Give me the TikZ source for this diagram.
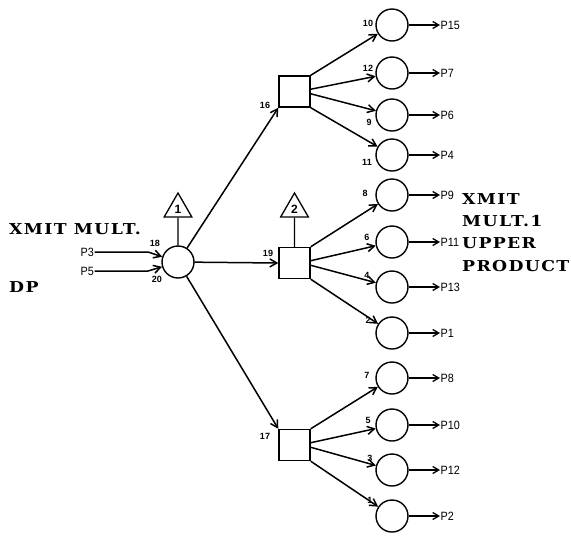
\documentclass[tikz,border=0pt]{standalone}
\usepackage{fontspec}
\setsansfont{Liberation Sans}
\newfontfamily\termfont[FakeStretch=0.9]{Liberation Sans}
\newfontfamily\notefont[FakeStretch=1.15,LetterSpace=9]{DejaVu Serif}
\usetikzlibrary{arrows.meta,shapes.geometric}

\begin{document}
\begin{tikzpicture}[
  x=1pt, y=-1pt,
  font=\sffamily,
  gate/.style={circle, draw, line width=1.4pt, minimum size=32pt, inner sep=0pt},
  relay/.style={rectangle, draw, line width=1.4pt, minimum size=31pt, inner sep=0pt},
  flag/.style={regular polygon, regular polygon sides=3, draw, line width=1.3pt, minimum size=32pt, inner sep=0pt, font=\sffamily\bfseries\fontsize{12}{12}\selectfont},
  feed/.style={-{Straight Barb[length=7pt, width=8pt, line width=1.5pt]}, line width=1.5pt},
  tap/.style={-{Straight Barb[length=6pt, width=7pt, line width=1.3pt]}, line width=1.2pt},
  term/.style={anchor=west, inner sep=0.5pt, font=\termfont\fontsize{12}{12}\selectfont},
  pin/.style={inner sep=0pt, font=\sffamily\bfseries\fontsize{9}{9}\selectfont},
  note/.style={anchor=west, align=left, inner sep=0pt, font=\notefont\bfseries\fontsize{15}{22.3}\selectfont}
]
\useasboundingbox (0,0) rectangle (571,539);

\def\xc{392}
\def\xt{440}

% Input side: the multiplier node with its flag.
\node[gate] (main) at (178,262) {};
\node[flag] (flag1) at (178,209) {1};
\draw[line width=1.3pt] (flag1.south) -- (main);
\node[term, anchor=west] (p3) at (80,252) {P3};
\node[term, anchor=west] (p5) at (80,271) {P5};
\coordinate (k3) at (148,252);
\coordinate (k5) at (148,271);
\draw[feed] (p3) -- (k3) -- (main);
\draw[feed] (p5) -- (k5) -- (main);
\node[pin] (n18) at (155,243) {18};
\node[pin] (n20) at (157,279) {20};
\node[note] (capleft) at (9,229) {XMIT MULT.};
\node[note] (dp) at (9,287) {DP};

% Three relay boxes fed from the multiplier node.
\node[relay] (top) at (294.5,91.5) {};
\node[relay] (mid) at (294.5,263) {};
\node[relay] (bot) at (294.5,445) {};
\node[flag] (flag2) at (294.5,209) {2};
\draw[line width=1.3pt] (flag2.south) -- (mid);
\draw[feed] (main) -- (top.south west);
\draw[feed] (main) -- (mid.west);
\draw[feed] (main) -- (bot.north west);
\node[pin] (n16) at (265,105) {16};
\node[pin] (n19) at (268,253) {19};
\node[pin] (n17) at (265,436) {17};

% Upper group.
\node[gate] (c10) at (\xc,25) {};
\node[gate] (c12) at (\xc,73) {};
\node[gate] (c9) at (\xc,115) {};
\node[gate] (c11) at (\xc,155) {};
\draw[feed] (top.north east) -- (c10);
\draw[feed] (top.8) -- (c12);
\draw[feed] (top.-8) -- (c9);
\draw[feed] (top.south east) -- (c11);
\node[pin] (n10) at (368,23) {10};
\node[pin] (n12) at (368,68) {12};
\node[pin] (n9) at (369,122) {9};
\node[pin] (n11) at (367,162) {11};
\node[term] (p15) at (\xt,25) {P15};
\node[term] (p7) at (\xt,73) {P7};
\node[term] (p6) at (\xt,115) {P6};
\node[term] (p4) at (\xt,155) {P4};
\draw[tap] (c10) -- (p15);
\draw[tap] (c12) -- (p7);
\draw[tap] (c9) -- (p6);
\draw[tap] (c11) -- (p4);

% Middle group.
\node[gate] (c8) at (\xc,195) {};
\node[gate] (c6) at (\xc,242) {};
\node[gate] (c4) at (\xc,287) {};
\node[gate] (c2) at (\xc,333) {};
\draw[feed] (mid.north east) -- (c8);
\draw[feed] (mid.8) -- (c6);
\draw[feed] (mid.-8) -- (c4);
\draw[feed] (mid.south east) -- (c2);
\node[pin] (n8) at (365,193) {8};
\node[pin] (n6) at (367,237) {6};
\node[pin] (n4) at (367,275) {4};
\node[pin] (n2) at (368,320) {2};
\node[term] (p9) at (\xt,195) {P9};
\node[term] (p11) at (\xt,242) {P11};
\node[term] (p13) at (\xt,287) {P13};
\node[term] (p1) at (\xt,333) {P1};
\draw[tap] (c8) -- (p9);
\draw[tap] (c6) -- (p11);
\draw[tap] (c4) -- (p13);
\draw[tap] (c2) -- (p1);
\node[note, anchor=north west] (capright) at (462,193) {XMIT\\MULT.1\\UPPER\\PRODUCT};

% Lower group.
\node[gate] (c7) at (\xc,378) {};
\node[gate] (c5) at (\xc,425) {};
\node[gate] (c3) at (\xc,470) {};
\node[gate] (c1) at (\xc,516) {};
\draw[feed] (bot.north east) -- (c7);
\draw[feed] (bot.8) -- (c5);
\draw[feed] (bot.-8) -- (c3);
\draw[feed] (bot.south east) -- (c1);
\node[pin] (n7) at (367,375) {7};
\node[pin] (n5) at (368,420) {5};
\node[pin] (n3) at (370,458) {3};
\node[pin] (n1) at (370,500) {1};
\node[term] (p8) at (\xt,378) {P8};
\node[term] (p10) at (\xt,425) {P10};
\node[term] (p12) at (\xt,470) {P12};
\node[term] (p2) at (\xt,516) {P2};
\draw[tap] (c7) -- (p8);
\draw[tap] (c5) -- (p10);
\draw[tap] (c3) -- (p12);
\draw[tap] (c1) -- (p2);

\end{tikzpicture}
\end{document}
